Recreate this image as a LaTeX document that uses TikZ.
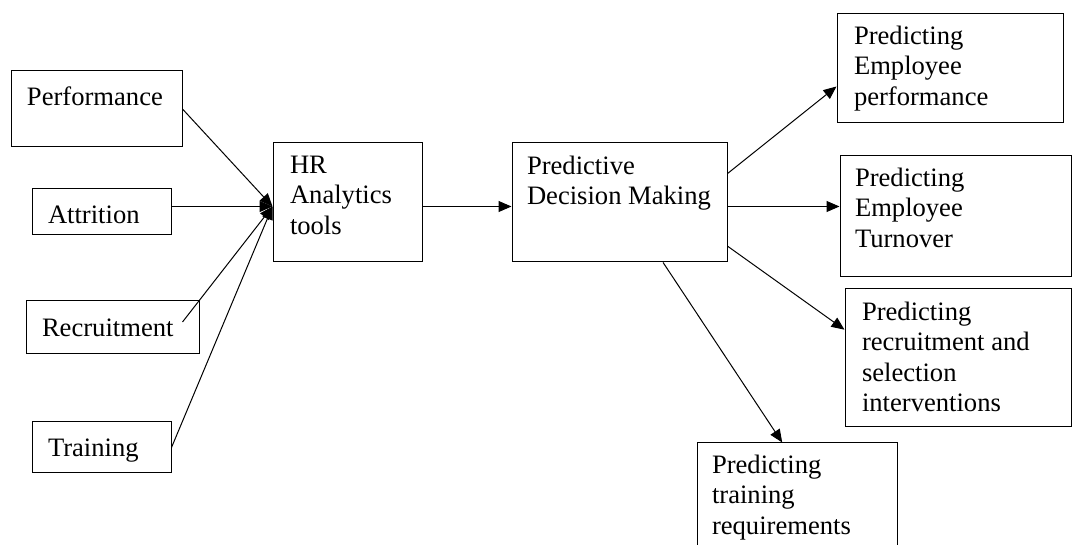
\documentclass[tikz,border=0pt]{standalone}
\usepackage{fontspec}
\setmainfont{Liberation Serif}
\usetikzlibrary{arrows.meta,positioning,calc}
\tikzset{every picture/.style={line width=1pt}}

\begin{document}
\begin{tikzpicture}[x=1pt, y=-1pt, >={Triangle[length=13pt,width=11pt]},
    box/.style={draw, inner sep=0pt},
    lbl/.style={anchor=north west, align=left, inner sep=0pt,
        font=\fontsize{26.6}{30.5}\selectfont, execute at begin node=\strut}]

    \clip (0,0) rectangle (1072,545);

    % --- Eingaben (links) ---
    \node[box, minimum width=171pt, minimum height=76pt] (perf) at (96.5,109) {};
    \node[lbl] (perf-t) at ([xshift=16pt,yshift=-13pt]perf.north west) {Performance};

    \node[box, minimum width=139pt, minimum height=46pt] (attr) at (101.5,212) {};
    \node[lbl] (attr-t) at ([xshift=16pt,yshift=-13pt]attr.north west) {Attrition};

    \node[box, minimum width=173pt, minimum height=53pt] (recr) at (112.5,327.5) {};
    \node[lbl] (recr-t) at ([xshift=16pt,yshift=-14pt]recr.north west) {Recruitment};

    \node[box, minimum width=139pt, minimum height=51pt] (train) at (101.5,447.5) {};
    \node[lbl] (train-t) at ([xshift=16pt,yshift=-13pt]train.north west) {Training};

    % --- Mitte ---
    \node[box, minimum width=149pt, minimum height=119pt] (hr) at (347.5,202.5) {};
    \node[lbl] (hr-t) at ([xshift=17pt,yshift=-13pt]hr.north west) {HR\\Analytics\\tools};

    \node[box, minimum width=215pt, minimum height=119pt] (pdm) at (619.5,202.5) {};
    \node[lbl] (pdm-t) at ([xshift=15pt,yshift=-13pt]pdm.north west) {Predictive\\Decision Making};

    % --- Ausgaben (rechts) ---
    \node[box, minimum width=226pt, minimum height=109pt] (pep) at (950,68.5) {};
    \node[lbl] (pep-t) at ([xshift=17pt,yshift=-12pt]pep.north west) {Predicting\\Employee\\performance};

    \node[box, minimum width=231pt, minimum height=121pt] (pet) at (955.5,216.5) {};
    \node[lbl] (pet-t) at ([xshift=15pt,yshift=-12pt]pet.north west) {Predicting\\Employee\\Turnover};

    \node[box, minimum width=226pt, minimum height=138pt] (prs) at (958,358) {};
    \node[lbl] (prs-t) at ([xshift=17pt,yshift=-13pt]prs.north west) {Predicting\\recruitment and\\selection\\interventions};

    \node[box, minimum width=200pt, minimum height=127pt] (ptr) at (797,506.5) {};
    \node[lbl] (ptr-t) at ([xshift=15pt,yshift=-12pt]ptr.north west) {Predicting\\training\\requirements};

    % --- Pfeile ---
    \coordinate (hub) at ([yshift=-4pt]hr.west);
    \draw[->] (perf.east) -- (hub);
    \draw[->] (attr.east |- hub) -- (hub);
    \draw[->] ([xshift=-17pt,yshift=5.5pt]recr.east) -- (hub);
    \draw[->] (train.east) -- (hub);

    \draw[->] (hr.east |- hub) -- (pdm.west |- hub);

    \draw[->] (pdm.15.8) -- (pep.189.3);
    \draw[->] (pdm.east |- hub) -- (pet.west |- hub);
    \draw[->] (pdm.-22.5) -- (prs.166.1);
    \draw[->] (pdm.-54.5) -- (ptr.103.3);

\end{tikzpicture}
\end{document}
